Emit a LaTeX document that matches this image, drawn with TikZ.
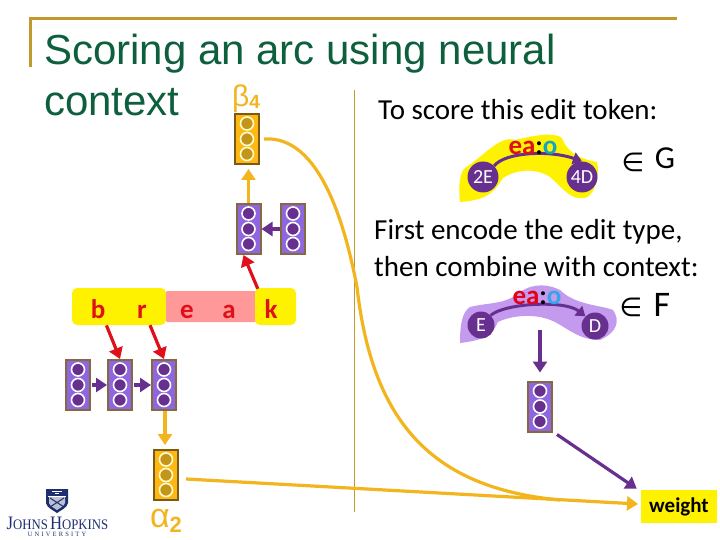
\documentclass[tikz,border=0pt]{standalone}
\usepackage{fontspec}
\setmainfont{Carlito}
\newfontfamily\arialf{Liberation Sans}
\newfontfamily\timesf{Liberation Serif}
\usetikzlibrary{arrows.meta}
\definecolor{titlegreen}{HTML}{0E5F3E}
\definecolor{rulegold}{HTML}{C19A2B}
\definecolor{vpurple}{HTML}{8E66E0}
\definecolor{vborder}{HTML}{86693F}
\definecolor{dpurple}{HTML}{67308F}
\definecolor{vorange}{HTML}{FDB813}
\definecolor{oborder}{HTML}{7A5A14}
\definecolor{odot}{HTML}{C4951B}
\definecolor{aorange}{HTML}{F2B51E}
\definecolor{tokred}{HTML}{E0101A}
\definecolor{pinkbg}{HTML}{FF9999}
\definecolor{lav}{HTML}{C49AEE}
\definecolor{navy}{HTML}{1D2F6F}
\definecolor{tealo}{HTML}{14A5C0}
\definecolor{blueo}{HTML}{30A8E8}
\tikzset{
  vecbox/.style={draw=vborder,fill=vpurple,line width=2pt,minimum width=24pt,minimum height=50pt,inner sep=0pt,rectangle},
  vecdot/.style={draw=white,fill=dpurple,line width=1.6pt,circle,minimum size=13pt,inner sep=0pt},
  orgbox/.style={draw=oborder,fill=vorange,line width=2pt,minimum width=24pt,minimum height=50pt,inner sep=0pt,rectangle},
  orgdot/.style={draw=white!80!yellow,fill=odot,line width=1.6pt,circle,minimum size=13pt,inner sep=0pt},
  tok/.style={text=tokred,font=\bfseries\fontsize{27}{27}\selectfont,inner sep=0pt},
  sent/.style={font=\fontsize{29}{30}\selectfont,inner sep=0pt,anchor=west},
  state/.style={circle,fill=dpurple,text=white,inner sep=0pt},
  redarr/.style={draw=tokred,line width=3.2pt,-{Triangle[length=11pt,width=14pt]}},
  purarr/.style={draw=dpurple,line width=3.2pt,-{Triangle[length=11pt,width=14pt]}},
  orgarr/.style={draw=aorange,line width=3.2pt,-{Triangle[length=11pt,width=14pt]}},
  orgline/.style={draw=aorange,line width=3.2pt},
  head/.style={font=\arialf\fontsize{42}{42}\selectfont,text=titlegreen,inner sep=0pt,anchor=base west},
  member/.style={font=\fontsize{36}{36}\selectfont,inner sep=0pt},
}
\newcommand{\vecblock}[4]{%
  \node[#4box] (#1) at (#2,#3) {};
  \node[#4dot] (#1a) at (#2,#3-15.5) {};
  \node[#4dot] (#1b) at (#2,#3) {};
  \node[#4dot] (#1c) at (#2,#3+15) {};
}
\begin{document}
\begin{tikzpicture}[x=1pt,y=-1pt]
\useasboundingbox (0,0) rectangle (720,540);
\fill[white] (0,0) rectangle (720,540);
% title rule
\coordinate (ra) at (30.5,67);
\coordinate (rb) at (30.5,18.5);
\coordinate (rc) at (677,18.5);
\draw[rulegold,line width=3pt] (ra) -- (rb) -- (rc);
\node[head] (t1) at (44,65) {Scoring an arc using neural};
\node[head] (t2) at (44,116) {context};
% divider
\coordinate (da) at (354.5,90);
\coordinate (db) at (354.5,512);
\draw[rulegold,line width=1.2pt] (da) -- (db);
% sentence
\node[fill=yellow,rounded corners=5pt,minimum width=94pt,minimum height=37pt,inner sep=0pt] (hl1) at (119,306.5) {};
\node[fill=pinkbg,rounded corners=1pt,minimum width=90pt,minimum height=31pt,inner sep=0pt] (hl2) at (211,306.5) {};
\node[fill=yellow,rounded corners=5pt,minimum width=41pt,minimum height=37pt,inner sep=0pt] (hl3) at (275.5,306.5) {};
\node[tok,anchor=base] (cb) at (98,318) {b};
\node[tok,anchor=base] (cr) at (142,318) {r};
\node[tok,anchor=base] (ce) at (187,318) {e};
\node[tok,anchor=base] (ca) at (229,318) {a};
\node[tok,anchor=base] (ck) at (271,318) {k};
% vectors
\vecblock{v1}{78}{385}{vec}
\vecblock{v2}{120}{385}{vec}
\vecblock{v3}{164}{385}{vec}
\vecblock{al}{166}{475}{org}
\vecblock{be}{247}{139}{org}
\vecblock{w1}{248.5}{229}{vec}
\vecblock{w2}{293}{229}{vec}
\vecblock{f1}{540}{406.5}{vec}
\node[text=aorange,font=\arialf\fontsize{34}{34}\selectfont,inner sep=0pt] (alab) at (166,521) {α\raisebox{-5pt}{\fontsize{22}{22}\selectfont\bfseries 2}};
\node[text=aorange,font=\arialf\fontsize{30}{30}\selectfont,inner sep=0pt] (blab) at (246,99) {β\raisebox{-2pt}{\fontsize{19}{19}\selectfont\bfseries 4}};
% connectors left
\draw[redarr] (cb.south east) ++(1,7) coordinate (s1) -- (v2.north);
\draw[redarr] (cr.south east) ++(3,7) coordinate (s2) -- (v3.north);
\draw[redarr] (hl3.north west) ++(3,1) coordinate (s3) -- ([xshift=-5pt]w1.south);
\draw[purarr] (v1) ++(14,0) coordinate (s4) -- (v2.west);
\draw[purarr] (v2) ++(14,0) coordinate (s5) -- (v3.west);
\draw[orgarr] ([xshift=1pt]v3.south) -- ([xshift=-1pt,yshift=4pt]al.north);
\draw[orgarr] (w1.north) -- ([xshift=1.5pt,yshift=-4pt]be.south);
\draw[purarr] (w2.west) -- (w1.east);
% right text
\node[sent] (s0) at (378,110) {To score this edit token:};
\node[sent] (s6) at (374,232) {First encode the edit type,};
\node[sent] (s7) at (374,267) {then combine with context:};
% upper arc
\fill[yellow] (460,202) .. controls (458,185) and (460,172) .. (465,168)
  .. controls (485,155) and (500,135) .. (515,140) .. controls (535,135) and (555,132) .. (562,138)
  .. controls (568,155) and (585,160) .. (597,162) .. controls (600,175) and (595,195) .. (585,198)
  .. controls (570,200) and (565,190) .. (550,177) .. controls (535,167) and (515,170) .. (503,178)
  .. controls (495,190) and (490,200) .. (460,202) -- cycle;
\node[state,minimum size=31pt,font=\fontsize{20}{20}\selectfont] (e2) at (483,177) {2E};
\node[state,minimum size=31pt,font=\fontsize{20}{20}\selectfont] (e4) at (582,177) {4D};
\draw[purarr,line width=3pt,-{Triangle[length=9pt,width=12pt]}] (e2.north east) .. controls (505,152) and (550,150) .. (e4.north);
\node[inner sep=0pt,font=\bfseries\fontsize{27}{27}\selectfont] (lab1) at (533,148) {\textcolor{tokred}{ea}:\textcolor{tealo}{o}};
\node[member] (in1) at (633,162) {\fontspec{DejaVu Sans}\fontsize{26}{26}\selectfont∈};
\node[member,font=\fontsize{32}{32}\selectfont] (g1) at (665,158) {G};
% lower arc
\fill[lav] (460,343) .. controls (460,325) and (462,312) .. (470,307)
  .. controls (490,302) and (505,305) .. (520,292) .. controls (535,282) and (550,285) .. (560,290)
  .. controls (575,305) and (600,305) .. (613,310) .. controls (620,320) and (618,332) .. (600,340)
  .. controls (580,340) and (570,330) .. (555,322) .. controls (535,312) and (510,316) .. (498,322)
  .. controls (492,335) and (485,340) .. (460,343) -- cycle;
\node[state,minimum size=27pt,font=\fontsize{20}{20}\selectfont] (ne) at (481,325) {E};
\node[state,minimum size=27pt,font=\fontsize{20}{20}\selectfont] (nd) at (595,326) {D};
\draw[purarr,line width=3pt,-{Triangle[length=9pt,width=12pt]}] (ne.north east) .. controls (505,303) and (565,300) .. (nd.north west);
\node[inner sep=0pt,font=\bfseries\fontsize{27}{27}\selectfont] (lab2) at (537,298) {\textcolor{red!90!blue}{ea}:\textcolor{blueo}{o}};
\node[member] (in2) at (631,307) {\fontspec{DejaVu Sans}\fontsize{26}{26}\selectfont∈};
\node[member] (f2) at (662,305) {F};
\coordinate (p0) at (540,330);
\draw[purarr] (p0) -- ([yshift=8pt]f1.north);
% weight
\node[fill=yellow,minimum width=76pt,minimum height=33pt,inner sep=0pt,font=\bfseries\fontsize{21}{21}\selectfont] (wt) at (679,506.5) {weight};
\draw[purarr] (f1.south east) ++(4,2) coordinate (p1) -- ([shift={(-4pt,1pt)}]wt.north west);
% orange curves
\coordinate (c0) at (264,139);
\coordinate (c1) at (357,287);
\coordinate (c2) at (186,479);
\coordinate (wtin) at (638,504);
\draw[orgline] (c0) .. controls (320,135) and (345,225) .. (c1) .. controls (372,420) and (430,488) .. (560,500);
\draw[orgarr] (c2) -- (wtin);
% logo
\fill[navy] (46,489) -- (68,489) -- (68,503) .. controls (67,508) and (61,510) .. (57,513) .. controls (53,510) and (47,508) .. (46,503) -- cycle;
\fill[white] (48,495.5) rectangle (66,496.5);
\fill[white!70!navy] (49,497) -- (65,497) -- (65,503) .. controls (64,506) and (60,508) .. (57,510) .. controls (54,508) and (50,506) .. (49,503) -- cycle;
\draw[navy,line width=1pt] (50,498) -- (64,507) (64,498) -- (50,507);
\draw[white,line width=.8pt] (52,491) -- (62,491) (55,493) -- (59,493);
\node[inner sep=0pt,text=navy,font=\timesf\fontsize{19}{19}\selectfont,xscale=.88] (jh) at (57.5,523) {J\fontsize{14.5}{14.5}\selectfont OHNS\,\fontsize{19}{19}\selectfont H\fontsize{14.5}{14.5}\selectfont OPKINS};
\node[inner sep=0pt,text=navy,font=\timesf\fontsize{6.5}{6.5}\selectfont] (jhu) at (57,534.5) {U\,\,N\,\,I\,\,V\,\,E\,\,R\,\,S\,\,I\,\,T\,\,Y};
\end{tikzpicture}
\end{document}
